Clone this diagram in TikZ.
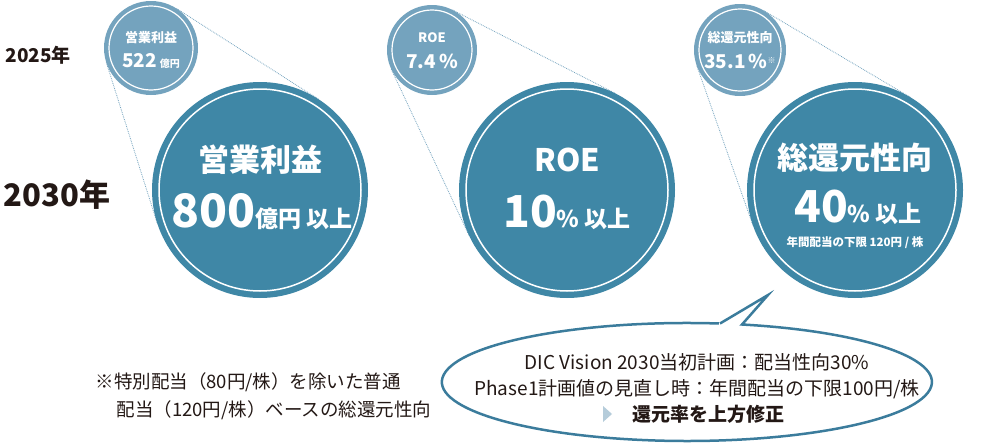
\documentclass[tikz,border=0pt]{standalone}
\usepackage{fontspec}
\setmainfont{Noto Sans CJK JP}
\usetikzlibrary{shapes.geometric}
\definecolor{big}{HTML}{3F87A6}
\definecolor{small}{HTML}{74A3BE}
\definecolor{edge}{HTML}{3B7C9C}
\definecolor{tri}{HTML}{B5CCDA}
\definecolor{ink}{HTML}{231815}
\newcommand{\fs}[1]{\fontsize{#1}{#1}\selectfont}
\begin{document}
\begin{tikzpicture}[x=1pt,y=-1pt,
 smallc/.style={circle,fill=small,minimum size=#1,inner sep=0pt,outer sep=0pt},
 ring/.style={draw=white,line width=1.5pt},
 dots/.style={draw=small,densely dotted,line width=0.8pt},
 wt/.style={text=white,font=\bfseries,align=center},
 tx/.style={text=ink,anchor=west}]
\useasboundingbox (0,0) rectangle (990,447);
\node[smallc=94pt] (s1) at (151,48) {};
\node[smallc=90pt] (s2) at (432,50) {};
\node[smallc=92pt] (s3) at (740,50) {};
\node[smallc=216pt,fill=none] (b1) at (260,190) {};
\node[smallc=216pt,fill=none] (b2) at (567,190) {};
\node[smallc=216pt,fill=none] (b3) at (855,190) {};
\draw[dots] (s1.57.5) -- (b1.57.5);
\draw[dots] (s1.-162.5) -- (b1.-162.5);
\draw[dots] (s2.63) -- (b2.63);
\draw[dots] (s2.-155) -- (b2.-155);
\draw[dots] (s3.59.4) -- (b3.59.4);
\draw[dots] (s3.-160.6) -- (b3.-160.6);
\foreach \n/\r in {s1/42,s2/40,s3/41}{\draw[ring,line width=1.2pt] (\n) circle (\r);}
\foreach \n in {b1,b2,b3}{\fill[big] (\n) circle (108); \draw[ring] (\n) circle (101);}
% small texts
\node[wt] (t1a) at (151,38) {\fs{13}営業利益};
\node[wt] (t1b) at (151,61) {\fs{19}522\,\fs{10}億円};
\node[wt] (t2a) at (432,38) {\fs{13}ROE};
\node[wt] (t2b) at (432,61) {\fs{19}7.4\,\%};
\node[wt] (t3a) at (740,38) {\fs{13}総還元性向};
\node[wt] (t3b) at (740,61) {\fs{19}35.1\,\%\raisebox{5pt}{\fs{8}※}};
% big texts
\node[wt] (u1a) at (260,160) {\fs{31}営業利益};
\node[wt] (u1b) at (262,212) {\fs{46}800\fs{23}億円 以上};
\node[wt] (u2a) at (567,160) {\fs{31}ROE};
\node[wt] (u2b) at (567,212) {\fs{44}10\fs{23}\% 以上};
\node[wt] (u3a) at (855,158) {\fs{31}総還元性向};
\node[wt] (u3b) at (858,207) {\fs{44}40\fs{23}\% 以上};
\node[wt] (u3c) at (855,243) {\fs{11.5}年間配当の下限 120円 / 株};
% years
\node[tx,font=\bfseries] (y1) at (2,55) {\fs{19}2025年};
\node[tx,font=\bfseries] (y2) at (0,195) {\fs{31}2030年};
% note
\node[tx] (n1) at (92,382) {\fs{18.5}※特別配当（80円/株）を除いた普通};
\node[tx] (n2) at (113,410) {\fs{18.5}配当（120円/株）ベースの総還元性向};
% callout
\draw[edge,line width=2.5pt,fill=white,line join=miter]
  (720,323.5) -- (768,295) -- (742,324.5)
  arc[start angle=-77,end angle=-77+360-5.5,x radius=245,y radius=59];
\node[text=ink] (c1) at (697,362) {\fs{19}DIC Vision 2030当初計画：配当性向30\%};
\node[text=ink] (c2) at (697,389) {\fs{19}Phase1計画値の見直し時：年間配当の下限100円/株};
\node[text=ink,font=\bfseries] (c3) at (708,414) {\fs{19}還元率を上方修正};
\fill[tri] (603,406) -- (612,414) -- (603,422) -- cycle;
\end{tikzpicture}
\end{document}
